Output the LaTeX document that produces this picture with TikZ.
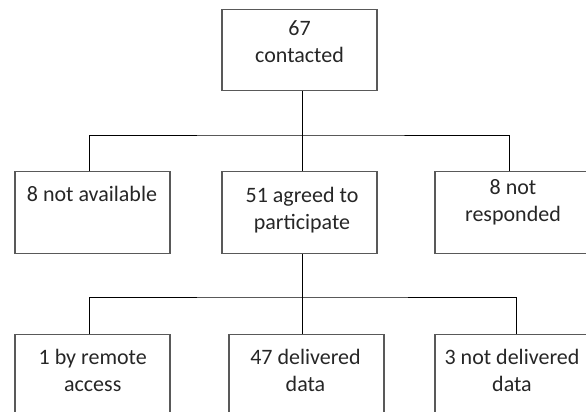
\documentclass[tikz,border=0pt]{standalone}
\usepackage{fontspec}
\setmainfont{Carlito}
\begin{document}
\begin{tikzpicture}[x=1pt,y=1pt,
  box/.style={draw=black!65, line width=1.2pt, minimum width=155pt, minimum height=81.5pt, inner sep=0pt},
  txt/.style={anchor=north, align=center, inner sep=0pt, text=black!85, font=\fontsize{22}{26.7}\selectfont},
  conn/.style={draw=black, line width=0.8pt}]
\useasboundingbox (0,0) rectangle (586,412);
\clip (0,0) rectangle (586,412);
% boxes
\node[box] (top) at (299.5,362) {};
\node[box] (na) at (92.5,199.5) {};
\node[box] (nm) at (299.5,199.5) {};
\node[box] (nr) at (512.5,199.5) {};
\node[box] (ba) at (92.5,37) {};
\node[box] (bm) at (306.5,37) {};
\node[box] (br) at (512.5,37) {};
% texts
\node[txt] (topt) at (299.5,391.5) {67\\contacted};
\node[txt] (nat) at (92,225.5) {8 not available};
\node[txt] (nmt) at (302,225) {51 agreed to\\participate};
\node[txt] (nrt) at (513,232.5) {8 not\\responded};
\node[txt] (bat) at (92.7,63) {1 by remote\\access};
\node[txt] (bmt) at (305.5,63) {47 delivered\\data};
\node[txt] (brt) at (512,63) {3 not delivered\\data};
% junctions
\coordinate (j1) at (302,277);
\coordinate (j2) at (302,115);
% connectors
\draw[conn] (top.south -| j1) -- (j1);
\draw[conn] ([xshift=-3.5pt]na.north) |- (j1) -| ([xshift=-3.5pt]nr.north);
\draw[conn] (j1) -- (nm.north -| j1);
\draw[conn] (nm.south -| j2) -- (j2);
\draw[conn] ([xshift=-3.5pt]ba.north) |- (j2) -| ([xshift=3.5pt]br.north);
\draw[conn] (j2) -- (bm.north -| j2);
\end{tikzpicture}
\end{document}
